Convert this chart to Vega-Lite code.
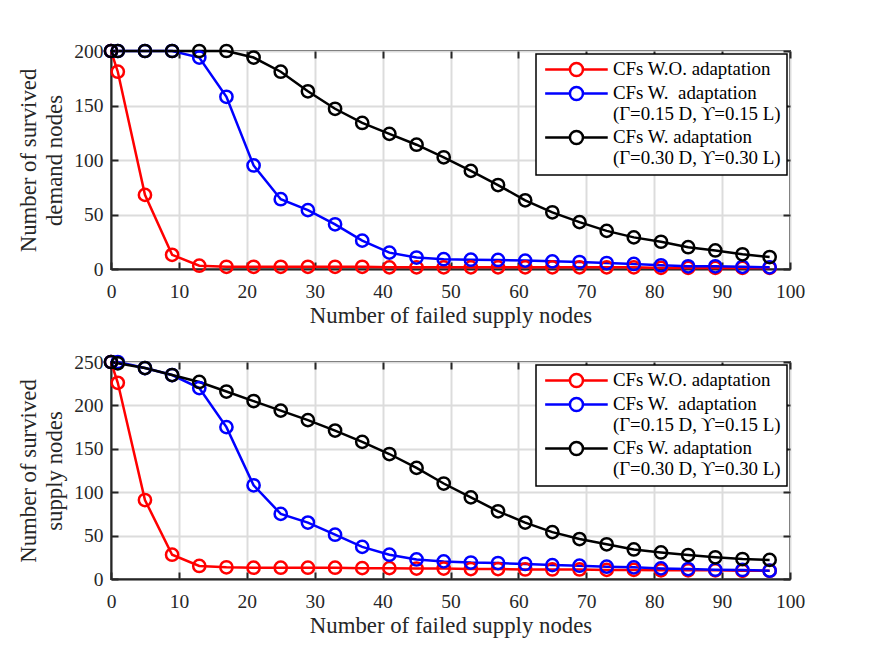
{
  "$schema": "https://vega.github.io/schema/vega-lite/v6.json",
  "background": "white",
  "padding": {"left": 16, "top": 38, "right": 5, "bottom": 5},
  "spacing": 20,
  "config": {
    "font": "Liberation Serif",
    "view": {"stroke": "#262626", "strokeWidth": 2},
    "axis": {
      "labelFont": "Liberation Serif", "labelFontSize": 19.5, "labelColor": "#262626", "labelFlush": false,
      "titleFont": "Liberation Serif", "titleFontSize": 22.8, "titleFontWeight": "normal", "titleColor": "#262626",
      "domainColor": "#262626", "domainWidth": 2,
      "tickColor": "#262626", "tickWidth": 2, "tickSize": -7,
      "gridColor": "#dcdcdc", "gridWidth": 2, "gridOpacity": 1
    },
    "legend": {
      "labelFont": "Liberation Serif", "labelFontSize": 18.9, "labelColor": "#000000", "labelLimit": 400
    }
  },
  "datasets": {
    "curves": [
      {"panel":"demand","series":"CFs W.O. adaptation","failed":0,"survived":200},
      {"panel":"demand","series":"CFs W.O. adaptation","failed":1,"survived":181},
      {"panel":"demand","series":"CFs W.O. adaptation","failed":5,"survived":68},
      {"panel":"demand","series":"CFs W.O. adaptation","failed":9,"survived":13},
      {"panel":"demand","series":"CFs W.O. adaptation","failed":13,"survived":3},
      {"panel":"demand","series":"CFs W.O. adaptation","failed":17,"survived":2},
      {"panel":"demand","series":"CFs W.O. adaptation","failed":21,"survived":2},
      {"panel":"demand","series":"CFs W.O. adaptation","failed":25,"survived":2},
      {"panel":"demand","series":"CFs W.O. adaptation","failed":29,"survived":2},
      {"panel":"demand","series":"CFs W.O. adaptation","failed":33,"survived":2},
      {"panel":"demand","series":"CFs W.O. adaptation","failed":37,"survived":2},
      {"panel":"demand","series":"CFs W.O. adaptation","failed":41,"survived":1.5},
      {"panel":"demand","series":"CFs W.O. adaptation","failed":45,"survived":1.5},
      {"panel":"demand","series":"CFs W.O. adaptation","failed":49,"survived":1.5},
      {"panel":"demand","series":"CFs W.O. adaptation","failed":53,"survived":1.5},
      {"panel":"demand","series":"CFs W.O. adaptation","failed":57,"survived":1.5},
      {"panel":"demand","series":"CFs W.O. adaptation","failed":61,"survived":1.5},
      {"panel":"demand","series":"CFs W.O. adaptation","failed":65,"survived":1.5},
      {"panel":"demand","series":"CFs W.O. adaptation","failed":69,"survived":1.5},
      {"panel":"demand","series":"CFs W.O. adaptation","failed":73,"survived":1.5},
      {"panel":"demand","series":"CFs W.O. adaptation","failed":77,"survived":1.5},
      {"panel":"demand","series":"CFs W.O. adaptation","failed":81,"survived":1},
      {"panel":"demand","series":"CFs W.O. adaptation","failed":85,"survived":1},
      {"panel":"demand","series":"CFs W.O. adaptation","failed":89,"survived":1},
      {"panel":"demand","series":"CFs W.O. adaptation","failed":93,"survived":1},
      {"panel":"demand","series":"CFs W.O. adaptation","failed":97,"survived":1},
      {"panel":"demand","series":"CFs W. adaptation (0.15)","failed":0,"survived":200},
      {"panel":"demand","series":"CFs W. adaptation (0.15)","failed":1,"survived":200},
      {"panel":"demand","series":"CFs W. adaptation (0.15)","failed":5,"survived":200},
      {"panel":"demand","series":"CFs W. adaptation (0.15)","failed":9,"survived":200},
      {"panel":"demand","series":"CFs W. adaptation (0.15)","failed":13,"survived":194},
      {"panel":"demand","series":"CFs W. adaptation (0.15)","failed":17,"survived":158},
      {"panel":"demand","series":"CFs W. adaptation (0.15)","failed":21,"survived":95},
      {"panel":"demand","series":"CFs W. adaptation (0.15)","failed":25,"survived":64},
      {"panel":"demand","series":"CFs W. adaptation (0.15)","failed":29,"survived":54},
      {"panel":"demand","series":"CFs W. adaptation (0.15)","failed":33,"survived":41},
      {"panel":"demand","series":"CFs W. adaptation (0.15)","failed":37,"survived":26},
      {"panel":"demand","series":"CFs W. adaptation (0.15)","failed":41,"survived":15},
      {"panel":"demand","series":"CFs W. adaptation (0.15)","failed":45,"survived":10.5},
      {"panel":"demand","series":"CFs W. adaptation (0.15)","failed":49,"survived":9},
      {"panel":"demand","series":"CFs W. adaptation (0.15)","failed":53,"survived":8.5},
      {"panel":"demand","series":"CFs W. adaptation (0.15)","failed":57,"survived":8.3},
      {"panel":"demand","series":"CFs W. adaptation (0.15)","failed":61,"survived":7.7},
      {"panel":"demand","series":"CFs W. adaptation (0.15)","failed":65,"survived":7},
      {"panel":"demand","series":"CFs W. adaptation (0.15)","failed":69,"survived":6.4},
      {"panel":"demand","series":"CFs W. adaptation (0.15)","failed":73,"survived":5.5},
      {"panel":"demand","series":"CFs W. adaptation (0.15)","failed":77,"survived":4.6},
      {"panel":"demand","series":"CFs W. adaptation (0.15)","failed":81,"survived":3.4},
      {"panel":"demand","series":"CFs W. adaptation (0.15)","failed":85,"survived":2.5},
      {"panel":"demand","series":"CFs W. adaptation (0.15)","failed":89,"survived":2.5},
      {"panel":"demand","series":"CFs W. adaptation (0.15)","failed":93,"survived":2},
      {"panel":"demand","series":"CFs W. adaptation (0.15)","failed":97,"survived":1.6},
      {"panel":"demand","series":"CFs W. adaptation (0.30)","failed":0,"survived":200},
      {"panel":"demand","series":"CFs W. adaptation (0.30)","failed":1,"survived":200},
      {"panel":"demand","series":"CFs W. adaptation (0.30)","failed":5,"survived":200},
      {"panel":"demand","series":"CFs W. adaptation (0.30)","failed":9,"survived":200},
      {"panel":"demand","series":"CFs W. adaptation (0.30)","failed":13,"survived":200},
      {"panel":"demand","series":"CFs W. adaptation (0.30)","failed":17,"survived":200},
      {"panel":"demand","series":"CFs W. adaptation (0.30)","failed":21,"survived":194},
      {"panel":"demand","series":"CFs W. adaptation (0.30)","failed":25,"survived":181},
      {"panel":"demand","series":"CFs W. adaptation (0.30)","failed":29,"survived":163},
      {"panel":"demand","series":"CFs W. adaptation (0.30)","failed":33,"survived":147},
      {"panel":"demand","series":"CFs W. adaptation (0.30)","failed":37,"survived":134},
      {"panel":"demand","series":"CFs W. adaptation (0.30)","failed":41,"survived":124},
      {"panel":"demand","series":"CFs W. adaptation (0.30)","failed":45,"survived":114},
      {"panel":"demand","series":"CFs W. adaptation (0.30)","failed":49,"survived":102.5},
      {"panel":"demand","series":"CFs W. adaptation (0.30)","failed":53,"survived":90},
      {"panel":"demand","series":"CFs W. adaptation (0.30)","failed":57,"survived":77},
      {"panel":"demand","series":"CFs W. adaptation (0.30)","failed":61,"survived":63},
      {"panel":"demand","series":"CFs W. adaptation (0.30)","failed":65,"survived":52},
      {"panel":"demand","series":"CFs W. adaptation (0.30)","failed":69,"survived":43},
      {"panel":"demand","series":"CFs W. adaptation (0.30)","failed":73,"survived":35},
      {"panel":"demand","series":"CFs W. adaptation (0.30)","failed":77,"survived":29},
      {"panel":"demand","series":"CFs W. adaptation (0.30)","failed":81,"survived":25},
      {"panel":"demand","series":"CFs W. adaptation (0.30)","failed":85,"survived":20},
      {"panel":"demand","series":"CFs W. adaptation (0.30)","failed":89,"survived":17},
      {"panel":"demand","series":"CFs W. adaptation (0.30)","failed":93,"survived":13.5},
      {"panel":"demand","series":"CFs W. adaptation (0.30)","failed":97,"survived":11},
      {"panel":"supply","series":"CFs W.O. adaptation","failed":0,"survived":250},
      {"panel":"supply","series":"CFs W.O. adaptation","failed":1,"survived":226},
      {"panel":"supply","series":"CFs W.O. adaptation","failed":5,"survived":91},
      {"panel":"supply","series":"CFs W.O. adaptation","failed":9,"survived":28},
      {"panel":"supply","series":"CFs W.O. adaptation","failed":13,"survived":15},
      {"panel":"supply","series":"CFs W.O. adaptation","failed":17,"survived":13.5},
      {"panel":"supply","series":"CFs W.O. adaptation","failed":21,"survived":13},
      {"panel":"supply","series":"CFs W.O. adaptation","failed":25,"survived":13},
      {"panel":"supply","series":"CFs W.O. adaptation","failed":29,"survived":13},
      {"panel":"supply","series":"CFs W.O. adaptation","failed":33,"survived":13},
      {"panel":"supply","series":"CFs W.O. adaptation","failed":37,"survived":12.5},
      {"panel":"supply","series":"CFs W.O. adaptation","failed":41,"survived":12.5},
      {"panel":"supply","series":"CFs W.O. adaptation","failed":45,"survived":12},
      {"panel":"supply","series":"CFs W.O. adaptation","failed":49,"survived":12},
      {"panel":"supply","series":"CFs W.O. adaptation","failed":53,"survived":11.5},
      {"panel":"supply","series":"CFs W.O. adaptation","failed":57,"survived":11.5},
      {"panel":"supply","series":"CFs W.O. adaptation","failed":61,"survived":11},
      {"panel":"supply","series":"CFs W.O. adaptation","failed":65,"survived":11},
      {"panel":"supply","series":"CFs W.O. adaptation","failed":69,"survived":11},
      {"panel":"supply","series":"CFs W.O. adaptation","failed":73,"survived":10.5},
      {"panel":"supply","series":"CFs W.O. adaptation","failed":77,"survived":10.5},
      {"panel":"supply","series":"CFs W.O. adaptation","failed":81,"survived":10},
      {"panel":"supply","series":"CFs W.O. adaptation","failed":85,"survived":10},
      {"panel":"supply","series":"CFs W.O. adaptation","failed":89,"survived":10},
      {"panel":"supply","series":"CFs W.O. adaptation","failed":93,"survived":9.5},
      {"panel":"supply","series":"CFs W.O. adaptation","failed":97,"survived":9.5},
      {"panel":"supply","series":"CFs W. adaptation (0.15)","failed":0,"survived":250},
      {"panel":"supply","series":"CFs W. adaptation (0.15)","failed":1,"survived":250},
      {"panel":"supply","series":"CFs W. adaptation (0.15)","failed":5,"survived":243},
      {"panel":"supply","series":"CFs W. adaptation (0.15)","failed":9,"survived":235},
      {"panel":"supply","series":"CFs W. adaptation (0.15)","failed":13,"survived":220},
      {"panel":"supply","series":"CFs W. adaptation (0.15)","failed":17,"survived":175},
      {"panel":"supply","series":"CFs W. adaptation (0.15)","failed":21,"survived":108},
      {"panel":"supply","series":"CFs W. adaptation (0.15)","failed":25,"survived":75},
      {"panel":"supply","series":"CFs W. adaptation (0.15)","failed":29,"survived":65},
      {"panel":"supply","series":"CFs W. adaptation (0.15)","failed":33,"survived":51},
      {"panel":"supply","series":"CFs W. adaptation (0.15)","failed":37,"survived":37},
      {"panel":"supply","series":"CFs W. adaptation (0.15)","failed":41,"survived":28},
      {"panel":"supply","series":"CFs W. adaptation (0.15)","failed":45,"survived":22.5},
      {"panel":"supply","series":"CFs W. adaptation (0.15)","failed":49,"survived":20.3},
      {"panel":"supply","series":"CFs W. adaptation (0.15)","failed":53,"survived":19},
      {"panel":"supply","series":"CFs W. adaptation (0.15)","failed":57,"survived":18.4},
      {"panel":"supply","series":"CFs W. adaptation (0.15)","failed":61,"survived":17.3},
      {"panel":"supply","series":"CFs W. adaptation (0.15)","failed":65,"survived":16},
      {"panel":"supply","series":"CFs W. adaptation (0.15)","failed":69,"survived":15.3},
      {"panel":"supply","series":"CFs W. adaptation (0.15)","failed":73,"survived":14.2},
      {"panel":"supply","series":"CFs W. adaptation (0.15)","failed":77,"survived":13.4},
      {"panel":"supply","series":"CFs W. adaptation (0.15)","failed":81,"survived":12.2},
      {"panel":"supply","series":"CFs W. adaptation (0.15)","failed":85,"survived":11.5},
      {"panel":"supply","series":"CFs W. adaptation (0.15)","failed":89,"survived":10.7},
      {"panel":"supply","series":"CFs W. adaptation (0.15)","failed":93,"survived":10.4},
      {"panel":"supply","series":"CFs W. adaptation (0.15)","failed":97,"survived":9.6},
      {"panel":"supply","series":"CFs W. adaptation (0.30)","failed":0,"survived":250},
      {"panel":"supply","series":"CFs W. adaptation (0.30)","failed":1,"survived":248.5},
      {"panel":"supply","series":"CFs W. adaptation (0.30)","failed":5,"survived":243},
      {"panel":"supply","series":"CFs W. adaptation (0.30)","failed":9,"survived":235},
      {"panel":"supply","series":"CFs W. adaptation (0.30)","failed":13,"survived":227},
      {"panel":"supply","series":"CFs W. adaptation (0.30)","failed":17,"survived":216},
      {"panel":"supply","series":"CFs W. adaptation (0.30)","failed":21,"survived":205},
      {"panel":"supply","series":"CFs W. adaptation (0.30)","failed":25,"survived":194},
      {"panel":"supply","series":"CFs W. adaptation (0.30)","failed":29,"survived":183},
      {"panel":"supply","series":"CFs W. adaptation (0.30)","failed":33,"survived":171},
      {"panel":"supply","series":"CFs W. adaptation (0.30)","failed":37,"survived":158},
      {"panel":"supply","series":"CFs W. adaptation (0.30)","failed":41,"survived":144},
      {"panel":"supply","series":"CFs W. adaptation (0.30)","failed":45,"survived":128},
      {"panel":"supply","series":"CFs W. adaptation (0.30)","failed":49,"survived":110},
      {"panel":"supply","series":"CFs W. adaptation (0.30)","failed":53,"survived":94},
      {"panel":"supply","series":"CFs W. adaptation (0.30)","failed":57,"survived":78},
      {"panel":"supply","series":"CFs W. adaptation (0.30)","failed":61,"survived":65},
      {"panel":"supply","series":"CFs W. adaptation (0.30)","failed":65,"survived":54},
      {"panel":"supply","series":"CFs W. adaptation (0.30)","failed":69,"survived":46},
      {"panel":"supply","series":"CFs W. adaptation (0.30)","failed":73,"survived":40},
      {"panel":"supply","series":"CFs W. adaptation (0.30)","failed":77,"survived":34},
      {"panel":"supply","series":"CFs W. adaptation (0.30)","failed":81,"survived":30.6},
      {"panel":"supply","series":"CFs W. adaptation (0.30)","failed":85,"survived":27.6},
      {"panel":"supply","series":"CFs W. adaptation (0.30)","failed":89,"survived":25},
      {"panel":"supply","series":"CFs W. adaptation (0.30)","failed":93,"survived":23},
      {"panel":"supply","series":"CFs W. adaptation (0.30)","failed":97,"survived":22}
    ]
  },
  "resolve": {"scale": {"color": "independent"}, "legend": {"color": "independent"}},
  "vconcat": [
    {
      "width": 679, "height": 218,
      "data": {"name": "curves"},
      "transform": [{"filter": "datum.panel == 'demand'"}],
      "encoding": {
        "color": {
          "field": "series", "type": "nominal",
          "scale": {"domain": ["CFs W.O. adaptation", "CFs W. adaptation (0.15)", "CFs W. adaptation (0.30)"], "range": ["#ff0000", "#0000ff", "#000000"]},
          "legend": {
            "title": null, "orient": "top-right", "offset": 3, "padding": 6,
            "strokeColor": "#000000", "fillColor": "white",
            "rowPadding": 0, "labelOffset": 27, "symbolOffset": 25,
            "symbolType": "M-4.8,0H-1M1,0H4.8M1,0A1,1,0,1,1,-1,0A1,1,0,1,1,1,0",
            "symbolSize": 170, "symbolStrokeWidth": 2.5, "symbolFillColor": "white",
            "encode": {"legend": {"update": {"strokeWidth": {"value": 1.5}}}},
            "labelExpr": "datum.value == 'CFs W.O. adaptation' ? 'CFs W.O. adaptation' : (indexof(datum.value, '0.15') >= 0 ? ['CFs W.\u00a0 adaptation', '(Γ=0.15 D,\u2009ϒ=0.15 L)'] : ['CFs W. adaptation', '\u00a0(Γ=0.30 D,\u2009ϒ=0.30 L)'])"
          }
        }
      },
      "layer": [
        {
          "mark": {"type": "line", "strokeWidth": 2.5},
          "encoding": {
            "x": {"field": "failed", "type": "quantitative", "scale": {"domain": [0, 100], "nice": false},
                  "axis": {"orient": "bottom", "values": [0,10,20,30,40,50,60,70,80,90,100], "title": "Number of failed supply nodes", "labelPadding": 20, "titlePadding": 4}},
            "y": {"field": "survived", "type": "quantitative", "scale": {"domain": [0, 200], "nice": false},
                  "axis": {"orient": "left", "values": [0,50,100,150,200], "title": ["Number of survived", "demand nodes"], "titleLineHeight": 26, "labelPadding": 15, "titlePadding": 7}}
          }
        },
        {
          "mark": {"type": "point", "filled": false, "size": 150, "strokeWidth": 2.5, "opacity": 1},
          "encoding": {
            "x": {"field": "failed", "type": "quantitative",
                  "axis": {"orient": "top", "values": [0,10,20,30,40,50,60,70,80,90,100], "title": null, "labels": false, "domain": false, "grid": false}},
            "y": {"field": "survived", "type": "quantitative",
                  "axis": {"orient": "right", "values": [0,50,100,150,200], "title": null, "labels": false, "domain": false, "grid": false}}
          }
        }
      ],
      "resolve": {"axis": {"x": "independent", "y": "independent"}}
    },
    {
      "width": 679, "height": 217,
      "data": {"name": "curves"},
      "transform": [{"filter": "datum.panel == 'supply'"}],
      "encoding": {
        "color": {
          "field": "series", "type": "nominal",
          "scale": {"domain": ["CFs W.O. adaptation", "CFs W. adaptation (0.15)", "CFs W. adaptation (0.30)"], "range": ["#ff0000", "#0000ff", "#000000"]},
          "legend": {
            "title": null, "orient": "top-right", "offset": 3, "padding": 6,
            "strokeColor": "#000000", "fillColor": "white",
            "rowPadding": 0, "labelOffset": 27, "symbolOffset": 25,
            "symbolType": "M-4.8,0H-1M1,0H4.8M1,0A1,1,0,1,1,-1,0A1,1,0,1,1,1,0",
            "symbolSize": 170, "symbolStrokeWidth": 2.5, "symbolFillColor": "white",
            "encode": {"legend": {"update": {"strokeWidth": {"value": 1.5}}}},
            "labelExpr": "datum.value == 'CFs W.O. adaptation' ? 'CFs W.O. adaptation' : (indexof(datum.value, '0.15') >= 0 ? ['CFs W.\u00a0 adaptation', '(Γ=0.15 D,\u2009ϒ=0.15 L)'] : ['CFs W. adaptation', '\u00a0(Γ=0.30 D,\u2009ϒ=0.30 L)'])"
          }
        }
      },
      "layer": [
        {
          "mark": {"type": "line", "strokeWidth": 2.5},
          "encoding": {
            "x": {"field": "failed", "type": "quantitative", "scale": {"domain": [0, 100], "nice": false},
                  "axis": {"orient": "bottom", "values": [0,10,20,30,40,50,60,70,80,90,100], "title": "Number of failed supply nodes", "labelPadding": 20, "titlePadding": 4}},
            "y": {"field": "survived", "type": "quantitative", "scale": {"domain": [0, 250], "nice": false},
                  "axis": {"orient": "left", "values": [0,50,100,150,200,250], "title": ["Number of survived", "supply nodes"], "titleLineHeight": 26, "labelPadding": 15, "titlePadding": 7}}
          }
        },
        {
          "mark": {"type": "point", "filled": false, "size": 150, "strokeWidth": 2.5, "opacity": 1},
          "encoding": {
            "x": {"field": "failed", "type": "quantitative",
                  "axis": {"orient": "top", "values": [0,10,20,30,40,50,60,70,80,90,100], "title": null, "labels": false, "domain": false, "grid": false}},
            "y": {"field": "survived", "type": "quantitative",
                  "axis": {"orient": "right", "values": [0,50,100,150,200,250], "title": null, "labels": false, "domain": false, "grid": false}}
          }
        }
      ],
      "resolve": {"axis": {"x": "independent", "y": "independent"}}
    }
  ]
}
